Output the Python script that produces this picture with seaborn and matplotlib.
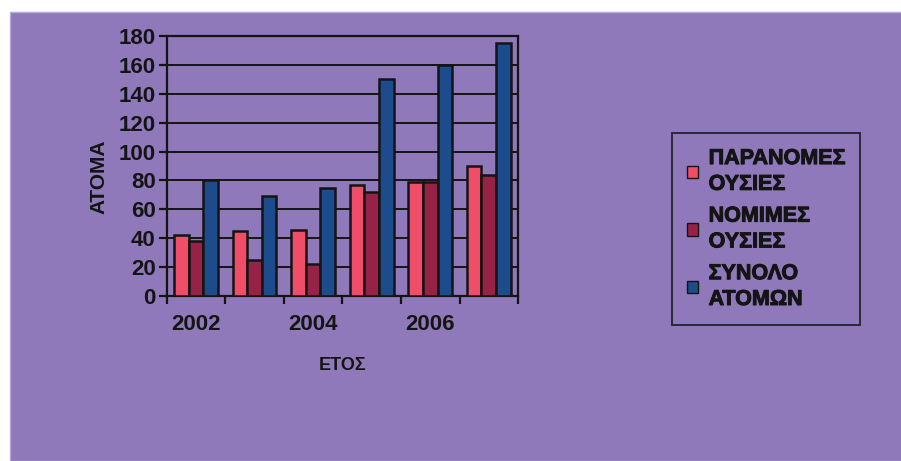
import matplotlib
matplotlib.use("Agg")
import matplotlib.pyplot as plt
import matplotlib.patheffects as pe
from matplotlib.patches import Rectangle
from matplotlib.font_manager import FontProperties
from matplotlib.ticker import FixedLocator, MultipleLocator
import seaborn as sns
import pandas as pd

years = ["2002", "2003", "2004", "2005", "2006", "2007"]
illegal = [42, 45, 46, 77, 79, 90]
legal = [38, 25, 22, 72, 79, 84]
total = [80, 69, 75, 150, 160, 175]
series_names = ["ΠΑΡΑΝΟΜΕΣ\nΟΥΣΙΕΣ", "ΝΟΜΙΜΕΣ\nΟΥΣΙΕΣ", "ΣΥΝΟΛΟ\nΑΤΟΜΩΝ"]
colors = ["#EF4D68", "#962245", "#1D4C8C"]
tick_years = ["2002", "", "2004", "", "2006", ""]

df = pd.DataFrame({
    "year": years * 3,
    "value": illegal + legal + total,
    "series": [series_names[0]] * 6 + [series_names[1]] * 6 + [series_names[2]] * 6,
})

sns.set_theme(style="white")
plt.rcParams["font.family"] = ["Liberation Sans", "DejaVu Sans"]
plt.rcParams["font.weight"] = "bold"

bg = "#9079BA"
ink = "#141414"
fig = plt.figure(figsize=(9.01, 4.61), dpi=100, facecolor="white")
fig.patches.append(Rectangle((10 / 901, 0), 1, (461 - 12) / 461,
                             transform=fig.transFigure, facecolor=bg,
                             edgecolor="#B8A8D8", linewidth=1, zorder=-10))

ax = fig.add_axes([0.185, 0.358, 0.39, 0.564])
ax.set_zorder(2)
ax.set_facecolor(bg)
sns.barplot(data=df, x="year", y="value", hue="series", palette=colors,
            saturation=1, width=0.75, gap=0.0, edgecolor=ink, linewidth=1.8,
            ax=ax, zorder=3)

ax.set_ylim(0, 180)
ax.set_xlim(-0.5, 5.5)
ax.yaxis.set_major_locator(MultipleLocator(20))
ax.grid(axis="y", color=ink, linewidth=1.4, zorder=0)
ax.set_axisbelow(True)
for s in ax.spines.values():
    s.set_color(ink)
    s.set_linewidth(1.6)
    s.set_visible(True)

ax.set_xticks(range(6))
ax.set_xticklabels(tick_years, fontsize=16, fontweight="bold", color=ink)
ax.tick_params(axis="x", which="major", length=0, pad=13)
ax.xaxis.set_minor_locator(FixedLocator([i - 0.5 for i in range(7)]))
ax.tick_params(axis="x", which="minor", length=6, width=1.6, color=ink, bottom=True)
ax.tick_params(axis="y", length=6, width=1.6, color=ink, left=True,
               labelsize=16, labelcolor=ink, pad=2)
for t in ax.get_yticklabels():
    t.set_fontweight("bold")

ax.set_xlabel("ΕΤΟΣ", fontsize=13, fontweight="bold", color=ink, labelpad=16)
ax.set_ylabel("ΑΤΟΜΑ", fontsize=15, fontweight="bold", color=ink)
ax.yaxis.set_label_coords(-0.165, 0.46)

legend_font = FontProperties(family="Liberation Sans", weight="bold", size=15.5)
leg = ax.legend(loc="upper left", bbox_to_anchor=(672 / 901, 1 - 133 / 461),
                bbox_transform=fig.transFigure, frameon=True, fancybox=False,
                prop=legend_font, handlelength=0.5,
                handleheight=0.5, handletextpad=0.5, labelspacing=0.5,
                borderpad=0.7, borderaxespad=0, title=None)
leg.get_frame().set_facecolor(bg)
leg.get_frame().set_edgecolor(ink)
leg.get_frame().set_linewidth(1.4)
for t in leg.get_texts():
    t.set_fontproperties(legend_font)
    t.set_linespacing(1.3)
    t.set_color(ink)
    t.set_path_effects([pe.withStroke(linewidth=0.7, foreground=ink)])
for h in leg.legend_handles:
    h.set_linewidth(1.0)

fig.savefig("out.png", dpi=100, facecolor=fig.get_facecolor())
